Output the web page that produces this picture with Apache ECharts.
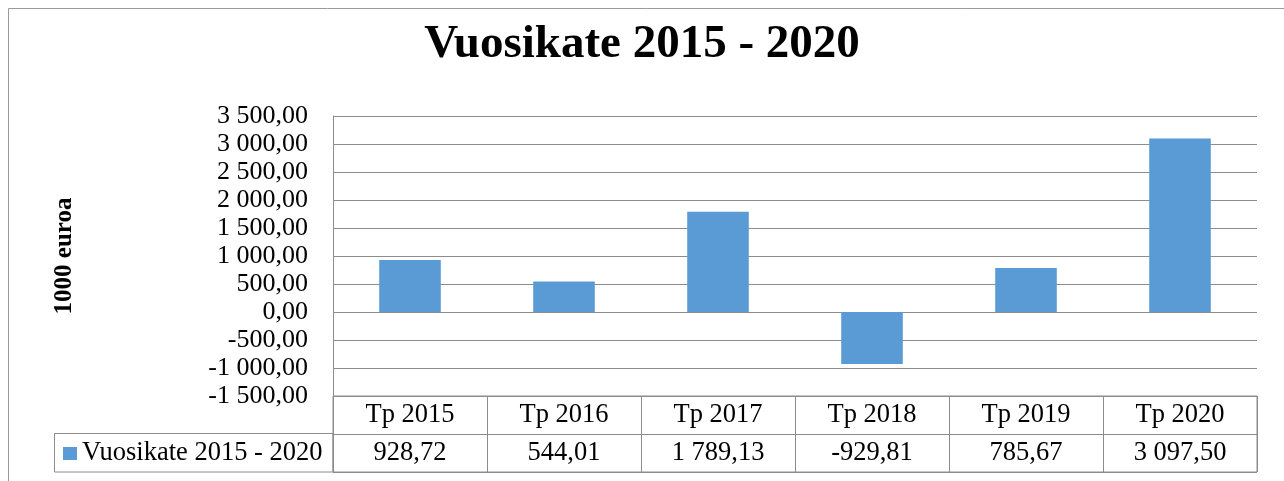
<!DOCTYPE html>
<html>
<head>
    <meta charset="utf-8">
    <script src="https://cdn.jsdelivr.net/npm/echarts@6/dist/echarts.min.js"></script>
</head>
<body style="margin:0;background:#fff;">
<div id="main" style="width: 1284px;height: 481px;"></div>
<script type="text/javascript">
    // data
    var categories = ['Tp 2015', 'Tp 2016', 'Tp 2017', 'Tp 2018', 'Tp 2019', 'Tp 2020'];
    var vuosikate = [928.72, 544.01, 1789.13, -929.81, 785.67, 3097.50];
    var seriesName = 'Vuosikate 2015 - 2020';

    var gray = '#8c8c8c';
    var font = 'Liberation Serif, Times New Roman, serif';

    // 3 500,00 style
    function fiNum(v){
        var neg = v < 0;
        var parts = Math.abs(v).toFixed(2).split('.');
        var whole = parts[0].replace(/\B(?=(\d{3})+(?!\d))/g, ' ');
        return (neg ? '-' : '') + whole + ',' + parts[1];
    }

    var myChart = echarts.init(document.getElementById('main'));

    var option = {
        animation: false,
        title: {
            text: 'Vuosikate 2015 - 2020',
            left: 'center',
            top: 16,
            textStyle: {fontFamily: font, fontSize: 47, fontWeight: 'bold', color: '#000'}
        },
        legend: {
            data: [seriesName],
            left: 63,
            top: 440,
            padding: 0,
            icon: 'rect',
            itemWidth: 14,
            itemHeight: 13,
            itemGap: 5,
            textStyle: {fontFamily: font, fontSize: 26.5, color: '#000', padding: [0, 0, 0, 0]}
        },
        grid: [
            {left: 333, right: 27, top: 116, bottom: 85},
            {left: 333, right: 27, top: 396, bottom: 9, show: true, borderColor: gray, borderWidth: 1}
        ],
        xAxis: [{
            type: 'category',
            gridIndex: 0,
            data: categories,
            axisLine: {show: false},
            axisTick: {show: false},
            axisLabel: {show: false}
        }, {
            type: 'category',
            gridIndex: 1,
            position: 'top',
            data: categories,
            axisLine: {show: false},
            axisTick: {show: false},
            splitLine: {show: true, lineStyle: {color: gray, width: 1}},
            axisLabel: {
                inside: true,
                margin: 0,
                interval: 0,
                formatter: function(value, idx){
                    return value + '\n' + fiNum(vuosikate[idx]);
                },
                fontFamily: font,
                fontSize: 26.5,
                lineHeight: 38,
                color: '#000'
            }
        }],
        yAxis: [{
            type: 'value',
            gridIndex: 0,
            min: -1500,
            max: 3500,
            interval: 500,
            name: '1000 euroa',
            nameLocation: 'middle',
            nameGap: 256,
            nameRotate: 90,
            nameTextStyle: {fontFamily: font, fontSize: 25, fontWeight: 'bold', color: '#000'},
            axisLine: {show: true, lineStyle: {color: gray}},
            axisTick: {show: false},
            axisLabel: {
                margin: 25,
                formatter: function(v){ return fiNum(v); },
                fontFamily: font,
                fontSize: 26,
                color: '#000'
            },
            splitLine: {show: true, lineStyle: {color: gray, width: 1}}
        }, {
            type: 'category',
            gridIndex: 1,
            data: ['', ''],
            axisLine: {show: false},
            axisTick: {show: false},
            axisLabel: {show: false},
            splitLine: {show: true, lineStyle: {color: gray, width: 1}}
        }],
        graphic: [{
            type: 'rect',
            shape: {x: 8.5, y: 8.5, width: 1300, height: 500},
            style: {fill: 'none', stroke: '#9a9a9a', lineWidth: 1},
            silent: true
        }, {
            type: 'rect',
            shape: {x: 54.5, y: 433.5, width: 278.5, height: 38.5},
            style: {fill: 'none', stroke: gray, lineWidth: 1},
            silent: true
        }],
        series: [{
            name: seriesName,
            type: 'bar',
            xAxisIndex: 0,
            yAxisIndex: 0,
            barWidth: '40%',
            itemStyle: {color: '#5B9BD5'},
            data: vuosikate
        }]
    };

    myChart.setOption(option);
</script>
</body>
</html>
